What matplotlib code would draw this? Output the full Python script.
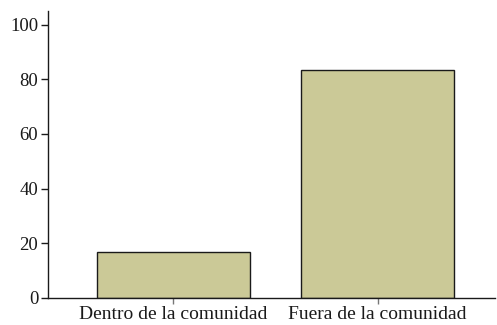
import matplotlib
matplotlib.use("Agg")
import matplotlib.pyplot as plt

categories = ["Dentro de la comunidad", "Fuera de la comunidad"]
values = [16.7, 83.3]
yticks = [0, 20, 40, 60, 80, 100]

plt.rcParams["font.family"] = ["Liberation Serif", "DejaVu Serif"]

fig = plt.figure(figsize=(4.97, 3.25), dpi=100)
ax = fig.add_axes([48 / 497, 1 - 298 / 325, (495 - 48) / 497, (298 - 11) / 325])

x = list(range(len(categories)))
ax.bar(x, values, width=0.75, color="#cbc997", edgecolor="#1a1a1a", linewidth=1.0)

ax.set_xlim(-0.613, 1.575)
ax.set_ylim(0, 105)
ax.set_yticks(yticks)
ax.set_yticklabels([str(v) for v in yticks])
ax.set_xticks(x)
ax.set_xticklabels(categories)

for side in ("top", "right"):
    ax.spines[side].set_visible(False)
for side in ("left", "bottom"):
    ax.spines[side].set_linewidth(1.0)
    ax.spines[side].set_color("#1a1a1a")

ax.tick_params(axis="y", direction="out", length=5, width=1, color="#1a1a1a",
               labelsize=13.5, pad=2, labelcolor="#1a1a1a")
ax.tick_params(axis="x", direction="out", length=4, width=1, color="#777777",
               labelsize=14, pad=2, labelcolor="#1a1a1a")

fig.savefig("out.png", dpi=100)
